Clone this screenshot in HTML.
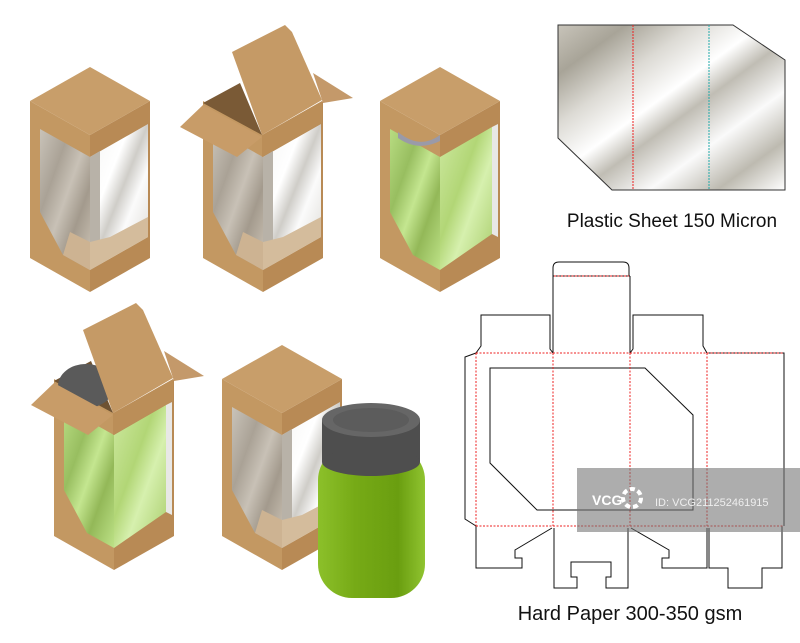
<!DOCTYPE html>
<html><head><meta charset="utf-8"><style>
html,body{margin:0;padding:0;background:#fff;width:800px;height:643px;overflow:hidden}
svg{display:block}
text{font-family:"Liberation Sans","DejaVu Sans",sans-serif}
</style></head><body>
<svg width="800" height="643" viewBox="0 0 800 643" xmlns="http://www.w3.org/2000/svg">
<defs>
<linearGradient id="plast" x1="0" y1="0" x2="1" y2="1">
<stop offset="0" stop-color="#c8c4ba"/><stop offset="0.15" stop-color="#a8a498"/><stop offset="0.3" stop-color="#dcdad4"/><stop offset="0.45" stop-color="#ffffff"/><stop offset="0.55" stop-color="#c0bdb4"/><stop offset="0.7" stop-color="#fafafa"/><stop offset="0.85" stop-color="#bdbab0"/><stop offset="1" stop-color="#ffffff"/>
</linearGradient>
<linearGradient id="winL" x1="0" y1="0" x2="1" y2="1">
<stop offset="0" stop-color="#c9c3b9"/><stop offset="0.3" stop-color="#aaa296"/><stop offset="0.5" stop-color="#c8c1b6"/><stop offset="0.7" stop-color="#a39a8d"/><stop offset="1" stop-color="#cfc6b8"/>
</linearGradient>
<linearGradient id="winR" x1="0" y1="0" x2="1" y2="1">
<stop offset="0" stop-color="#f4f4f2"/><stop offset="0.35" stop-color="#ffffff"/><stop offset="0.5" stop-color="#cfcdc8"/><stop offset="0.65" stop-color="#fbfbfb"/><stop offset="1" stop-color="#d8d6d0"/>
</linearGradient>
<linearGradient id="grn" x1="0" y1="0" x2="1" y2="1">
<stop offset="0" stop-color="#b8dc82"/><stop offset="0.3" stop-color="#98be60"/><stop offset="0.5" stop-color="#c4e690"/><stop offset="0.7" stop-color="#93b858"/><stop offset="1" stop-color="#bde287"/>
</linearGradient>
<linearGradient id="grnR" x1="0" y1="0" x2="1" y2="1">
<stop offset="0" stop-color="#cde9a0"/><stop offset="0.4" stop-color="#b2d676"/><stop offset="0.6" stop-color="#d6f0ae"/><stop offset="1" stop-color="#a8cc6a"/>
</linearGradient>
<linearGradient id="jar" x1="0" y1="0" x2="1" y2="0">
<stop offset="0" stop-color="#8cc02a"/><stop offset="0.35" stop-color="#76aa16"/><stop offset="0.75" stop-color="#6a9e10"/><stop offset="1" stop-color="#90c430"/>
</linearGradient>
<g id="box">
<polygon points="-60,-191 0,-157 0,0 -60,-34" fill="#c39862"/>
<polygon points="0,-157 60,-191 60,-34 0,0" fill="#b88a55"/>
</g>
<g id="winclear">
<polygon points="-50,-163 0,-135 0,-22 -27,-37 -50,-80" fill="url(#winL)"/>
<polygon points="-27,-37 0,-22 0,-50 -20,-60" fill="#cdb392"/>
<polygon points="0,-135 58,-168 58,-55 0,-22" fill="url(#winR)"/>
<polygon points="0,-135 10,-141 10,-28 0,-22" fill="#b8b2a8"/>
<polygon points="0,-22 58,-55 58,-75 20,-55 0,-50" fill="#d4bc9c"/>
</g>
<g id="wingreen">
<polygon points="-50,-163 0,-135 0,-22 -27,-37 -50,-80" fill="url(#grn)"/>
<polygon points="0,-135 52,-165 52,-58 0,-22" fill="url(#grnR)"/>
<polygon points="52,-165 58,-168 58,-55 52,-58" fill="#e8e8e6"/>
</g>
<polygon id="topc" points="0,-157 -60,-191 0,-225 60,-191" fill="#c89e6a"/>
</defs>

<g transform="translate(90,292)"><use href="#box"/><use href="#winclear"/><use href="#topc"/></g>

<g transform="translate(263,292)"><use href="#box"/><use href="#winclear"/></g>
<polygon points="203,103 240,83 262,135" fill="#7a5a36"/>
<polygon points="313,73 353,98 323,103" fill="#c4996a"/>
<polygon points="180,127 203,105 262,137 237,157" fill="#c89c68"/>
<polygon points="262,135 322,101 322,123 262,157" fill="#bb8e58"/>
<polygon points="232,52 285,25 292,32 322,100 262,135" fill="#c59a66"/>

<g transform="translate(440,292)"><use href="#box"/><use href="#wingreen"/><use href="#topc"/></g>
<path d="M398,132 Q420,150 440,135 L440,141 Q418,152 398,138Z" fill="#9a9aa8"/>

<g transform="translate(114,570)"><use href="#box"/><use href="#wingreen"/></g>
<g transform="translate(-149,278)">
<polygon points="203,103 240,83 262,135" fill="#6e5232"/>
<ellipse cx="235" cy="108" rx="28" ry="22" fill="#5a5a5a"/>
<polygon points="313,73 353,98 323,103" fill="#c4996a"/>
<polygon points="180,127 203,105 262,137 237,157" fill="#c89c68"/>
<polygon points="262,135 322,101 322,123 262,157" fill="#bb8e58"/>
<polygon points="232,52 285,25 292,32 322,100 262,135" fill="#c59a66"/>
</g>

<g transform="translate(282,570)"><use href="#box"/><use href="#winclear"/><use href="#topc"/></g>

<rect x="318" y="446" width="107" height="152" rx="34" fill="url(#jar)"/>
<rect x="322" y="420" width="98" height="42" fill="#4e4e4e"/>
<ellipse cx="371" cy="462" rx="49" ry="14" fill="#4e4e4e"/>
<ellipse cx="371" cy="420" rx="49" ry="17" fill="#666"/>
<ellipse cx="371" cy="420" rx="38" ry="12" fill="#5c5c5c"/>

<polygon points="558,25 733,25 785,60 785,190 612,190 558,138" fill="url(#plast)" stroke="#333" stroke-width="1"/>
<line x1="633" y1="25" x2="633" y2="190" stroke="#e22" stroke-width="1" stroke-dasharray="2,1"/>
<line x1="709" y1="25" x2="709" y2="190" stroke="#2aa" stroke-width="1" stroke-dasharray="2,1"/>
<text x="672" y="227" font-size="19" text-anchor="middle" fill="#111">Plastic Sheet 150 Micron</text>

<g fill="none" stroke="#111" stroke-width="1">
<path d="M553,276 L553,268 Q553,262 559,262 L623,262 Q629,262 629,268 L629,276"/>
<path d="M553,276 L553,353 M630,276 L630,353 M553,276 L630,276"/>
<path d="M476,353 L481,346 L481,315 L550,315 L550,349 L553,353"/>
<path d="M630,353 L633,349 L633,315 L703,315 L703,346 L707,353 L784,353 L784,526"/>
<path d="M476,353 L465,357 L465,519 L476,526"/>
<path d="M490,368 L645,368 L693,415 L693,510 L537,510 L490,463 Z"/>
<path d="M476,526 L476,568 L522,568 L522,558 L515,558 L515,550 L552,528"/>
<path d="M554,528 L554,588 L577,588 L577,577 L571,577 L571,562 L611,562 L611,577 L606,577 L606,588 L628,588 L628,528"/>
<path d="M631,528 L669,550 L669,558 L662,558 L662,568 L707,568 L707,528"/>
<path d="M709,528 L709,568 L728,568 L728,588 L762,588 L762,568 L782,568 L782,526"/>
</g>
<g fill="none" stroke="#e22" stroke-width="1" stroke-dasharray="2,1.5">
<line x1="554" y1="276" x2="629" y2="276"/>
<line x1="476" y1="353" x2="784" y2="353"/>
<line x1="476" y1="526" x2="784" y2="526"/>
<line x1="476" y1="353" x2="476" y2="526"/>
<line x1="553" y1="353" x2="553" y2="526"/>
<line x1="630" y1="353" x2="630" y2="526"/>
<line x1="707" y1="353" x2="707" y2="526"/>
</g>
<text x="630" y="620" font-size="20" text-anchor="middle" fill="#111">Hard Paper 300-350 gsm</text>

<rect x="577" y="468" width="223" height="64" fill="#777" opacity="0.6"/>
<text x="592" y="505" font-size="14" font-weight="bold" fill="#fff">VCG</text>
<circle cx="632" cy="498" r="9" fill="none" stroke="#fff" stroke-width="4" stroke-dasharray="5,3"/>
<text x="655" y="506" font-size="11" fill="#eee">ID: VCG211252461915</text>
</svg>
</body></html>
